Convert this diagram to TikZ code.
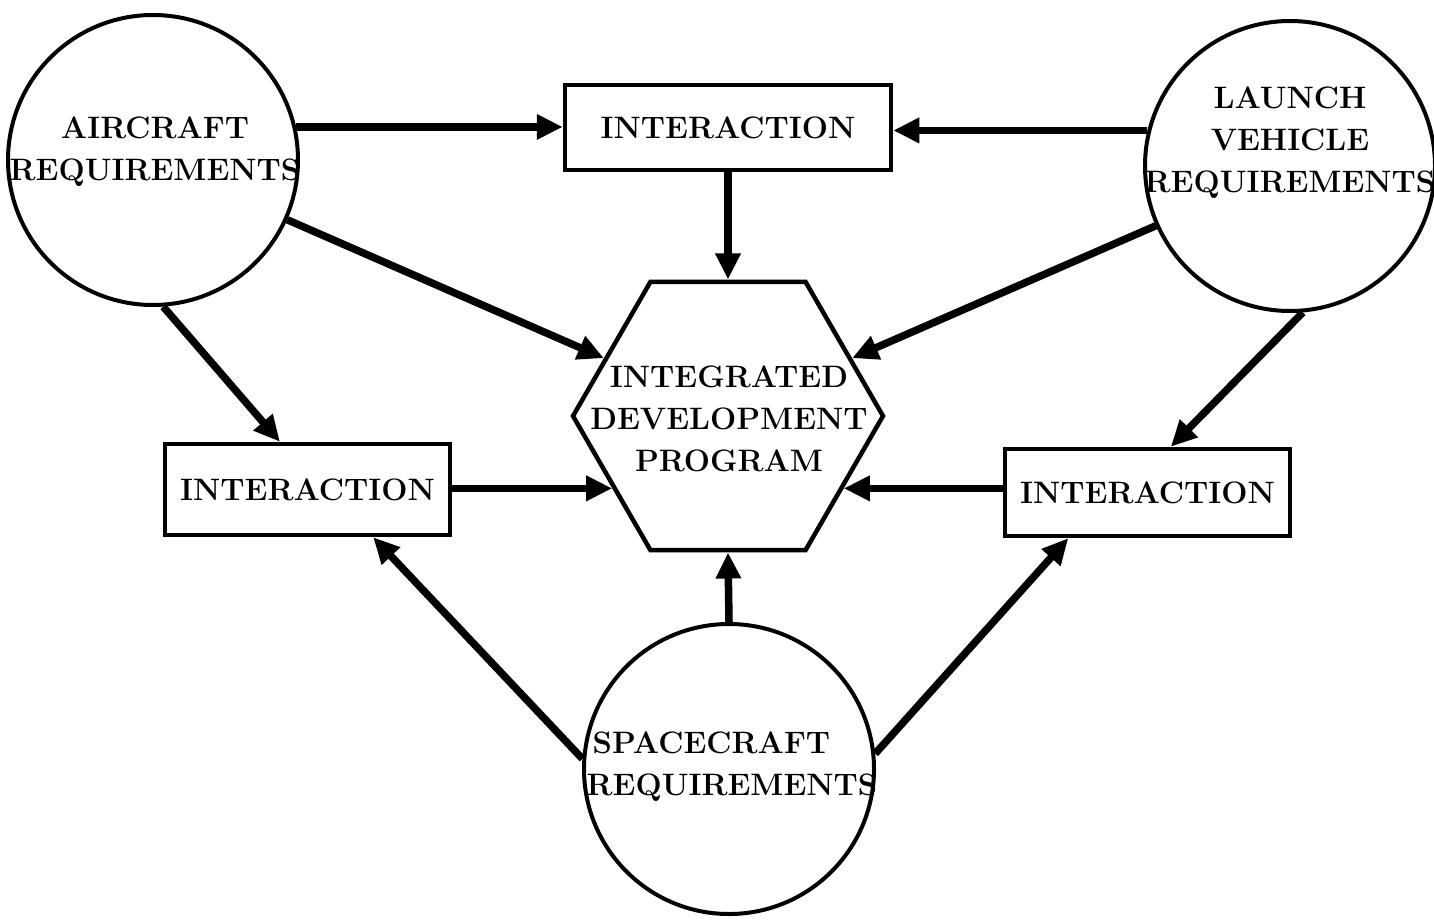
\documentclass[tikz,border=0pt]{standalone}
\usepackage{fontspec}
\usetikzlibrary{arrows.meta,shapes.geometric}
\newcommand{\lblfont}{\fontsize{31}{42}\selectfont\bfseries}
\tikzset{
  conn/.style={line width=7.5pt, -{Triangle[length=26pt,width=24pt]}},
  req/.style={circle, draw, line width=4pt, minimum size=290pt, inner sep=0pt},
  ibox/.style={rectangle, draw, line width=4.5pt, inner sep=0pt, font=\lblfont},
  hexa/.style={regular polygon, regular polygon sides=6, draw, line width=4.5pt, minimum size=310pt, inner sep=0pt},
  txt/.style={align=center, font=\lblfont, inner sep=0pt},
}
\begin{document}
\begin{tikzpicture}[x=1pt,y=-1pt]
\useasboundingbox (0,0) rectangle (1434,923);
% shapes
\node[req] (ac) at (153,160) {};
\node[req] (lc) at (1290,166) {};
\node[req] (sc) at (729,769) {};
\node[hexa] (hex) at (728,416) {};
\node[ibox, minimum width=326pt, minimum height=85pt] (tb) at (728,127.5) {INTERACTION};
\node[ibox, minimum width=285pt, minimum height=91pt] (lb) at (307.5,489.5) {INTERACTION};
\node[ibox, minimum width=285pt, minimum height=87pt] (rb) at (1147.5,492.5) {INTERACTION};
% texts
\node[txt] (act) at (155,152) {AIRCRAFT\\REQUIREMENTS};
\node[txt] (lct) at (1290,143) {LAUNCH\\VEHICLE\\REQUIREMENTS};
\node[txt] (hext) at (729,419) {INTEGRATED\\DEVELOPMENT\\PROGRAM};
\node[txt, align=left] (sct) at (732,767) {\hspace*{6pt}SPACECRAFT\\REQUIREMENTS};
% connectors
\draw[conn] (ac.13) -- (ac.13 -| tb.west);
\draw[conn] (lc.166) -- (lc.166 -| tb.east);
\draw[conn] (tb.south) -- (hex.north);
\draw[conn] (ac.-24) -- (hex.155);
\draw[conn] (lc.204) -- (hex.25);
\draw[conn] (ac.-86) -- (lb.120);
\draw[conn] (lc.-85) -- (rb.63);
\draw[conn] (hex.212 -| lb.east) -- (hex.212);
\draw[conn] (hex.-32 -| rb.west) -- (hex.-32);
\draw[conn] (sc.north) -- (hex.south);
\draw[conn] (sc.176) -- (lb.-36);
\draw[conn] (sc.6) -- (rb.210);
\end{tikzpicture}
\end{document}
